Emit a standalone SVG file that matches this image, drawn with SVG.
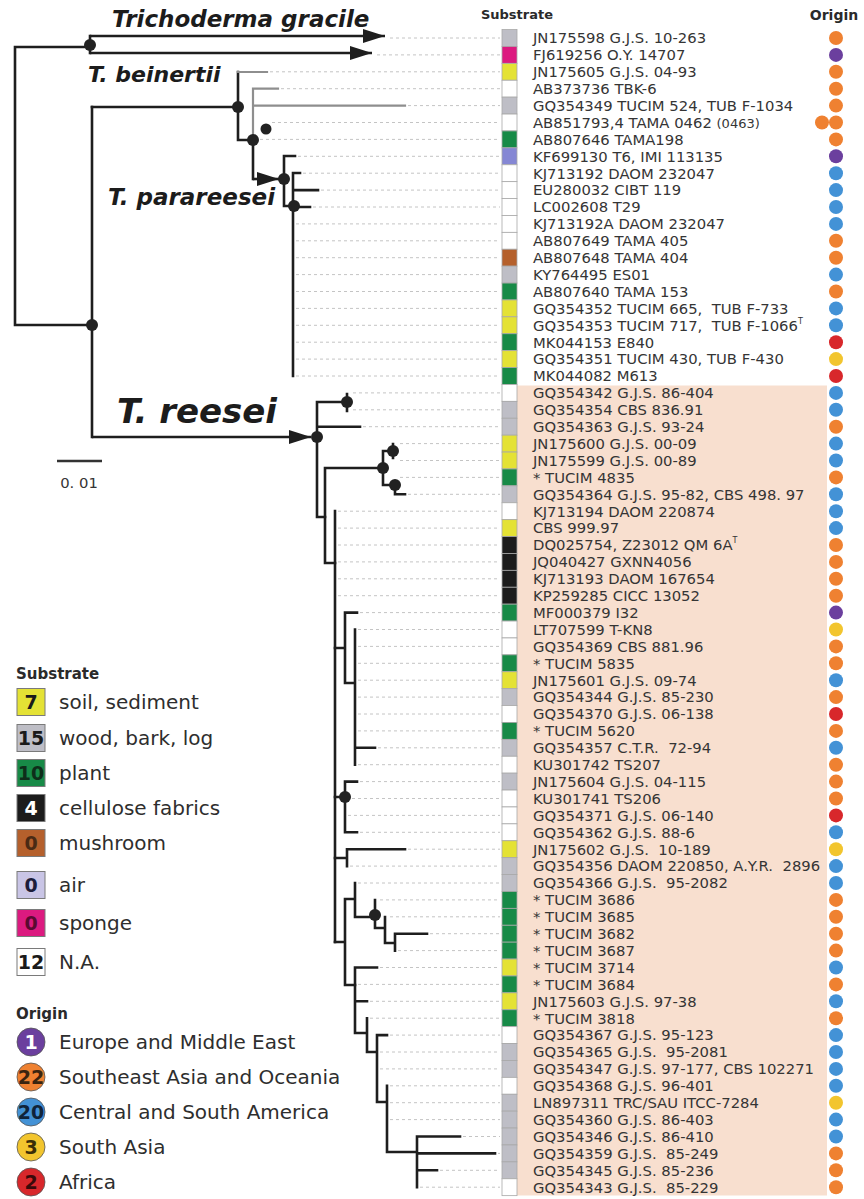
<svg xmlns="http://www.w3.org/2000/svg" width="864" height="1199" viewBox="0 0 864 1199">
<style>
.bg{fill:#ffffff}
.peach{fill:#f8dfcf}
.t{fill:none;stroke:#1e1e1e;stroke-width:2.6;stroke-linecap:square;stroke-linejoin:miter}
.ta{fill:none;stroke:#1e1e1e;stroke-width:2.6;stroke-linecap:butt}
.tg{fill:none;stroke:#8e8e8e;stroke-width:2.2;stroke-linecap:square}
.ld{fill:none;stroke:#c4c4c4;stroke-width:1;stroke-dasharray:3 3}
.dot{fill:#222}
.clade{font-family:"DejaVu Sans",Verdana,sans-serif;font-weight:bold;font-style:italic;fill:#1c1c1c}
.lab{font-family:"DejaVu Sans",Verdana,sans-serif;font-size:14.8px;fill:#353535}
.hdr{font-family:"DejaVu Sans",Verdana,sans-serif;font-weight:bold;fill:#2a2a2a}
.leg{font-family:"DejaVu Sans",Verdana,sans-serif;font-size:20px;fill:#2e2e2e}
.num{font-family:"DejaVu Sans",Verdana,sans-serif;font-size:19px;font-weight:bold;text-anchor:middle}
.sq{stroke:#a8a8a8;stroke-width:0.8}
.lsq{stroke:#7a7a7a;stroke-width:1}
.soil{fill:#e4e235}
.wood{fill:#bebec6}
.plant{fill:#178a47}
.cell{fill:#1c1c1c}
.mush{fill:#b5602c}
.air{fill:#8587d4}
.airl{fill:#c9c5e6}
.spo{fill:#dc1a80}
.na{fill:#ffffff}
.eu{fill:#6b3f9e}
.sea{fill:#ef8131}
.am{fill:#4392d6}
.sa{fill:#f2c52e}
.af{fill:#d8272b}
.lc{stroke:#555;stroke-width:0.8}
</style>
<defs>
<marker id="arr" markerUnits="userSpaceOnUse" markerWidth="22" markerHeight="14" refX="22" refY="7" orient="auto">
<path d="M0,0 L22,7 L0,14 z" fill="#1e1e1e"/>
</marker>
</defs>
<rect class="bg" x="0" y="0" width="864" height="1199"/>
<rect class="peach" x="517" y="385.5" width="310" height="810"/>

<g id="headers">
<text class="hdr" x="553" y="19" font-size="13" text-anchor="end">Substrate</text>
<text class="hdr" x="834" y="20" font-size="14" text-anchor="middle">Origin</text>
</g>

<g id="clade-labels">
<text class="clade" x="112" y="27" font-size="23">Trichoderma gracile</text>
<text class="clade" x="88" y="82" font-size="22">T. beinertii</text>
<text class="clade" x="108" y="205" font-size="23">T. parareesei</text>
<text class="clade" x="117" y="423" font-size="34">T. reesei</text>
</g>

<g id="scale-bar">
<path d="M57,461H102" stroke="#333" stroke-width="2.4"/>
<text class="lab" x="79" y="488" font-size="17" text-anchor="middle">0. 01</text>
</g>

<g id="connectors">
<path class="ld" d="M390,38H500M377,54.9H500M270,71.8H500M281,88.7H500M408,105.6H500M272,122.5H500M260,139.4H500M298,156.3H500M303,173.2H500M321,190.1H500M313,207H500M296,223.9H500M296,240.8H500M296,257.7H500M296,274.6H500M296,291.5H500M296,308.4H500M296,325.3H500M296,342.2H500M296,359.1H500M296,376H500M353,392.9H500M353,409.8H500M363,426.7H500M400,443.6H500M400,460.5H500M400,477.4H500M408,494.3H500M338,511.2H500M338,528.1H500M338,545H500M338,561.9H500M338,578.8H500M338,595.7H500M360,612.6H500M358,629.5H500M358,646.4H500M358,663.3H500M358,680.2H500M358,697.1H500M358,714H500M358,730.9H500M378,747.8H500M358,764.7H500M360,781.6H500M352,798.5H500M348,815.4H500M360,832.3H500M408,849.2H500M350,866.1H500M358,883H500M380,899.9H500M390,916.8H500M430,933.7H500M398,950.6H500M380,967.5H500M358,984.4H500M370,1001.3H500M370,1018.2H500M390,1035.1H500M380,1052H500M380,1068.9H500M390,1085.8H500M390,1102.7H500M390,1119.6H500M463,1136.5H500M498,1153.4H500M440,1170.3H500M420,1187.2H500"/>
<path class="t" d="M90,47H15V325H92"/>
<path class="t" d="M90,36V53"/>
<path class="ta" d="M90,36H385" marker-end="url(#arr)"/>
<path class="ta" d="M90,53H372" marker-end="url(#arr)"/>
<path class="t" d="M92,107V437"/>
<path class="t" d="M92,107H238"/>
<path class="ta" d="M92,437H311" marker-end="url(#arr)"/>
<path class="t" d="M238,107V72"/>
<path class="tg" d="M238,72H267"/>
<path class="t" d="M238,107V140H253"/>
<path class="tg" d="M253,140V88.7H278M253,105.6H405"/>
<path class="t" d="M253,140V179"/>
<path class="ta" d="M253,179H279" marker-end="url(#arr)"/>
<path class="t" d="M284,156V206H293M284,156H295"/>
<path class="t" d="M293,173V376M293,173H300M293,190.1H318M293,207H310"/>
<path class="t" d="M317,402V517H325M317,402H347M347,394V411M317,426.7H360"/>
<path class="t" d="M325,468V563H335M325,468H383M383,451V485M383,451H393M393,444V458M383,485H395V494.3H405"/>
<path class="t" d="M335,511V942"/>
<path class="t" d="M335,648H345M345,612.6V683H355M345,612.6H357M355,629.5V764.7M355,747.8H375"/>
<path class="t" d="M335,797H345M345,781.6V832.3M345,781.6H357M345,832.3H357"/>
<path class="t" d="M335,858H347M347,849.2V866.1M347,849.2H405"/>
<path class="t" d="M335,942H345M345,899V985H355M345,899H355M355,883V917H375M375,900V928H385M385,917V943H395M395,933.7V950.6M395,933.7H427"/>
<path class="t" d="M355,967.5V1033H367M355,967.5H377M355,1001.3H367M367,1018.2V1052H377M377,1035.1V1102H387M377,1035.1H387M387,1085.8V1152H417M417,1136.5V1187.2M417,1136.5H460M417,1153.4H495M417,1170.3H437"/>
<circle class="dot" cx="90" cy="45" r="6"/>
<circle class="dot" cx="92" cy="325" r="6"/>
<circle class="dot" cx="238" cy="107" r="6"/>
<circle class="dot" cx="253" cy="140" r="6"/>
<circle class="dot" cx="266" cy="129" r="5.5"/>
<circle class="dot" cx="284" cy="179" r="6"/>
<circle class="dot" cx="294" cy="206" r="6"/>
<circle class="dot" cx="317" cy="437" r="6"/>
<circle class="dot" cx="347" cy="402" r="6"/>
<circle class="dot" cx="383" cy="468" r="6"/>
<circle class="dot" cx="393" cy="451" r="6"/>
<circle class="dot" cx="395" cy="485" r="6"/>
<circle class="dot" cx="345" cy="797" r="6"/>
<circle class="dot" cx="375" cy="915" r="6"/>
</g>

<g id="taxa">
<g id="r1" transform="translate(0,38)"><rect class="sq wood" x="502" y="-8.45" width="15" height="16.9"/><text class="lab" x="533" y="5.3">JN175598 G.J.S. 10-263</text><circle class="sea" cx="836" cy="0" r="7"/></g>
<g id="r2" transform="translate(0,54.9)"><rect class="sq spo" x="502" y="-8.45" width="15" height="16.9"/><text class="lab" x="533" y="5.3">FJ619256 O.Y. 14707</text><circle class="eu" cx="836" cy="0" r="7"/></g>
<g id="r3" transform="translate(0,71.8)"><rect class="sq soil" x="502" y="-8.45" width="15" height="16.9"/><text class="lab" x="533" y="5.3">JN175605 G.J.S. 04-93</text><circle class="sea" cx="836" cy="0" r="7"/></g>
<g id="r4" transform="translate(0,88.7)"><rect class="sq na" x="502" y="-8.45" width="15" height="16.9"/><text class="lab" x="533" y="5.3">AB373736 TBK-6</text><circle class="sea" cx="836" cy="0" r="7"/></g>
<g id="r5" transform="translate(0,105.6)"><rect class="sq wood" x="502" y="-8.45" width="15" height="16.9"/><text class="lab" x="533" y="5.3">GQ354349 TUCIM 524, TUB F-1034</text><circle class="sea" cx="836" cy="0" r="7"/></g>
<g id="r6" transform="translate(0,122.5)"><rect class="sq na" x="502" y="-8.45" width="15" height="16.9"/><text class="lab" x="533" y="5.3">AB851793,4 TAMA 0462 <tspan font-size="13">(0463)</tspan></text><circle class="sea" cx="822" cy="0" r="7"/><circle class="sea" cx="836" cy="0" r="7"/></g>
<g id="r7" transform="translate(0,139.4)"><rect class="sq plant" x="502" y="-8.45" width="15" height="16.9"/><text class="lab" x="533" y="5.3">AB807646 TAMA198</text><circle class="sea" cx="836" cy="0" r="7"/></g>
<g id="r8" transform="translate(0,156.3)"><rect class="sq air" x="502" y="-8.45" width="15" height="16.9"/><text class="lab" x="533" y="5.3">KF699130 T6, IMI 113135</text><circle class="eu" cx="836" cy="0" r="7"/></g>
<g id="r9" transform="translate(0,173.2)"><rect class="sq na" x="502" y="-8.45" width="15" height="16.9"/><text class="lab" x="533" y="5.3">KJ713192 DAOM 232047</text><circle class="am" cx="836" cy="0" r="7"/></g>
<g id="r10" transform="translate(0,190.1)"><rect class="sq na" x="502" y="-8.45" width="15" height="16.9"/><text class="lab" x="533" y="5.3">EU280032 CIBT 119</text><circle class="am" cx="836" cy="0" r="7"/></g>
<g id="r11" transform="translate(0,207)"><rect class="sq na" x="502" y="-8.45" width="15" height="16.9"/><text class="lab" x="533" y="5.3">LC002608 T29</text><circle class="am" cx="836" cy="0" r="7"/></g>
<g id="r12" transform="translate(0,223.9)"><rect class="sq na" x="502" y="-8.45" width="15" height="16.9"/><text class="lab" x="533" y="5.3">KJ713192A DAOM 232047</text><circle class="am" cx="836" cy="0" r="7"/></g>
<g id="r13" transform="translate(0,240.8)"><rect class="sq na" x="502" y="-8.45" width="15" height="16.9"/><text class="lab" x="533" y="5.3">AB807649 TAMA 405</text><circle class="sea" cx="836" cy="0" r="7"/></g>
<g id="r14" transform="translate(0,257.7)"><rect class="sq mush" x="502" y="-8.45" width="15" height="16.9"/><text class="lab" x="533" y="5.3">AB807648 TAMA 404</text><circle class="sea" cx="836" cy="0" r="7"/></g>
<g id="r15" transform="translate(0,274.6)"><rect class="sq wood" x="502" y="-8.45" width="15" height="16.9"/><text class="lab" x="533" y="5.3">KY764495 ES01</text><circle class="am" cx="836" cy="0" r="7"/></g>
<g id="r16" transform="translate(0,291.5)"><rect class="sq plant" x="502" y="-8.45" width="15" height="16.9"/><text class="lab" x="533" y="5.3">AB807640 TAMA 153</text><circle class="sea" cx="836" cy="0" r="7"/></g>
<g id="r17" transform="translate(0,308.4)"><rect class="sq soil" x="502" y="-8.45" width="15" height="16.9"/><text class="lab" x="533" y="5.3" xml:space="preserve">GQ354352 TUCIM 665,  TUB F-733</text><circle class="am" cx="836" cy="0" r="7"/></g>
<g id="r18" transform="translate(0,325.3)"><rect class="sq soil" x="502" y="-8.45" width="15" height="16.9"/><text class="lab" x="533" y="5.3" xml:space="preserve">GQ354353 TUCIM 717,  TUB F-1066<tspan font-size="8" dy="-7">T</tspan></text><circle class="am" cx="836" cy="0" r="7"/></g>
<g id="r19" transform="translate(0,342.2)"><rect class="sq plant" x="502" y="-8.45" width="15" height="16.9"/><text class="lab" x="533" y="5.3">MK044153 E840</text><circle class="af" cx="836" cy="0" r="7"/></g>
<g id="r20" transform="translate(0,359.1)"><rect class="sq soil" x="502" y="-8.45" width="15" height="16.9"/><text class="lab" x="533" y="5.3">GQ354351 TUCIM 430, TUB F-430</text><circle class="sa" cx="836" cy="0" r="7"/></g>
<g id="r21" transform="translate(0,376)"><rect class="sq plant" x="502" y="-8.45" width="15" height="16.9"/><text class="lab" x="533" y="5.3">MK044082 M613</text><circle class="af" cx="836" cy="0" r="7"/></g>
<g id="r22" transform="translate(0,392.9)"><rect class="sq na" x="502" y="-8.45" width="15" height="16.9"/><text class="lab" x="533" y="5.3">GQ354342 G.J.S. 86-404</text><circle class="am" cx="836" cy="0" r="7"/></g>
<g id="r23" transform="translate(0,409.8)"><rect class="sq wood" x="502" y="-8.45" width="15" height="16.9"/><text class="lab" x="533" y="5.3">GQ354354 CBS 836.91</text><circle class="am" cx="836" cy="0" r="7"/></g>
<g id="r24" transform="translate(0,426.7)"><rect class="sq wood" x="502" y="-8.45" width="15" height="16.9"/><text class="lab" x="533" y="5.3">GQ354363 G.J.S. 93-24</text><circle class="sea" cx="836" cy="0" r="7"/></g>
<g id="r25" transform="translate(0,443.6)"><rect class="sq soil" x="502" y="-8.45" width="15" height="16.9"/><text class="lab" x="533" y="5.3">JN175600 G.J.S. 00-09</text><circle class="am" cx="836" cy="0" r="7"/></g>
<g id="r26" transform="translate(0,460.5)"><rect class="sq soil" x="502" y="-8.45" width="15" height="16.9"/><text class="lab" x="533" y="5.3">JN175599 G.J.S. 00-89</text><circle class="am" cx="836" cy="0" r="7"/></g>
<g id="r27" transform="translate(0,477.4)"><rect class="sq plant" x="502" y="-8.45" width="15" height="16.9"/><text class="lab" x="533" y="5.3">* TUCIM 4835</text><circle class="sea" cx="836" cy="0" r="7"/></g>
<g id="r28" transform="translate(0,494.3)"><rect class="sq wood" x="502" y="-8.45" width="15" height="16.9"/><text class="lab" x="533" y="5.3">GQ354364 G.J.S. 95-82, CBS 498. 97</text><circle class="am" cx="836" cy="0" r="7"/></g>
<g id="r29" transform="translate(0,511.2)"><rect class="sq na" x="502" y="-8.45" width="15" height="16.9"/><text class="lab" x="533" y="5.3">KJ713194 DAOM 220874</text><circle class="am" cx="836" cy="0" r="7"/></g>
<g id="r30" transform="translate(0,528.1)"><rect class="sq soil" x="502" y="-8.45" width="15" height="16.9"/><text class="lab" x="533" y="5.3">CBS 999.97</text><circle class="am" cx="836" cy="0" r="7"/></g>
<g id="r31" transform="translate(0,545)"><rect class="sq cell" x="502" y="-8.45" width="15" height="16.9"/><text class="lab" x="533" y="5.3">DQ025754, Z23012 QM 6A<tspan font-size="8" dy="-7">T</tspan></text><circle class="sea" cx="836" cy="0" r="7"/></g>
<g id="r32" transform="translate(0,561.9)"><rect class="sq cell" x="502" y="-8.45" width="15" height="16.9"/><text class="lab" x="533" y="5.3">JQ040427 GXNN4056</text><circle class="sea" cx="836" cy="0" r="7"/></g>
<g id="r33" transform="translate(0,578.8)"><rect class="sq cell" x="502" y="-8.45" width="15" height="16.9"/><text class="lab" x="533" y="5.3">KJ713193 DAOM 167654</text><circle class="sea" cx="836" cy="0" r="7"/></g>
<g id="r34" transform="translate(0,595.7)"><rect class="sq cell" x="502" y="-8.45" width="15" height="16.9"/><text class="lab" x="533" y="5.3">KP259285 CICC 13052</text><circle class="sea" cx="836" cy="0" r="7"/></g>
<g id="r35" transform="translate(0,612.6)"><rect class="sq plant" x="502" y="-8.45" width="15" height="16.9"/><text class="lab" x="533" y="5.3">MF000379 I32</text><circle class="eu" cx="836" cy="0" r="7"/></g>
<g id="r36" transform="translate(0,629.5)"><rect class="sq na" x="502" y="-8.45" width="15" height="16.9"/><text class="lab" x="533" y="5.3">LT707599 T-KN8</text><circle class="sa" cx="836" cy="0" r="7"/></g>
<g id="r37" transform="translate(0,646.4)"><rect class="sq na" x="502" y="-8.45" width="15" height="16.9"/><text class="lab" x="533" y="5.3">GQ354369 CBS 881.96</text><circle class="sea" cx="836" cy="0" r="7"/></g>
<g id="r38" transform="translate(0,663.3)"><rect class="sq plant" x="502" y="-8.45" width="15" height="16.9"/><text class="lab" x="533" y="5.3">* TUCIM 5835</text><circle class="sea" cx="836" cy="0" r="7"/></g>
<g id="r39" transform="translate(0,680.2)"><rect class="sq soil" x="502" y="-8.45" width="15" height="16.9"/><text class="lab" x="533" y="5.3">JN175601 G.J.S. 09-74</text><circle class="am" cx="836" cy="0" r="7"/></g>
<g id="r40" transform="translate(0,697.1)"><rect class="sq wood" x="502" y="-8.45" width="15" height="16.9"/><text class="lab" x="533" y="5.3">GQ354344 G.J.S. 85-230</text><circle class="sea" cx="836" cy="0" r="7"/></g>
<g id="r41" transform="translate(0,714)"><rect class="sq na" x="502" y="-8.45" width="15" height="16.9"/><text class="lab" x="533" y="5.3">GQ354370 G.J.S. 06-138</text><circle class="af" cx="836" cy="0" r="7"/></g>
<g id="r42" transform="translate(0,730.9)"><rect class="sq plant" x="502" y="-8.45" width="15" height="16.9"/><text class="lab" x="533" y="5.3">* TUCIM 5620</text><circle class="sea" cx="836" cy="0" r="7"/></g>
<g id="r43" transform="translate(0,747.8)"><rect class="sq wood" x="502" y="-8.45" width="15" height="16.9"/><text class="lab" x="533" y="5.3" xml:space="preserve">GQ354357 C.T.R.  72-94</text><circle class="am" cx="836" cy="0" r="7"/></g>
<g id="r44" transform="translate(0,764.7)"><rect class="sq na" x="502" y="-8.45" width="15" height="16.9"/><text class="lab" x="533" y="5.3">KU301742 TS207</text><circle class="sea" cx="836" cy="0" r="7"/></g>
<g id="r45" transform="translate(0,781.6)"><rect class="sq wood" x="502" y="-8.45" width="15" height="16.9"/><text class="lab" x="533" y="5.3">JN175604 G.J.S. 04-115</text><circle class="sea" cx="836" cy="0" r="7"/></g>
<g id="r46" transform="translate(0,798.5)"><rect class="sq na" x="502" y="-8.45" width="15" height="16.9"/><text class="lab" x="533" y="5.3">KU301741 TS206</text><circle class="sea" cx="836" cy="0" r="7"/></g>
<g id="r47" transform="translate(0,815.4)"><rect class="sq na" x="502" y="-8.45" width="15" height="16.9"/><text class="lab" x="533" y="5.3">GQ354371 G.J.S. 06-140</text><circle class="af" cx="836" cy="0" r="7"/></g>
<g id="r48" transform="translate(0,832.3)"><rect class="sq na" x="502" y="-8.45" width="15" height="16.9"/><text class="lab" x="533" y="5.3">GQ354362 G.J.S. 88-6</text><circle class="am" cx="836" cy="0" r="7"/></g>
<g id="r49" transform="translate(0,849.2)"><rect class="sq soil" x="502" y="-8.45" width="15" height="16.9"/><text class="lab" x="533" y="5.3" xml:space="preserve">JN175602 G.J.S.  10-189</text><circle class="sa" cx="836" cy="0" r="7"/></g>
<g id="r50" transform="translate(0,866.1)"><rect class="sq wood" x="502" y="-8.45" width="15" height="16.9"/><text class="lab" x="533" y="5.3" xml:space="preserve">GQ354356 DAOM 220850, A.Y.R.  2896</text><circle class="am" cx="836" cy="0" r="7"/></g>
<g id="r51" transform="translate(0,883)"><rect class="sq wood" x="502" y="-8.45" width="15" height="16.9"/><text class="lab" x="533" y="5.3" xml:space="preserve">GQ354366 G.J.S.  95-2082</text><circle class="am" cx="836" cy="0" r="7"/></g>
<g id="r52" transform="translate(0,899.9)"><rect class="sq plant" x="502" y="-8.45" width="15" height="16.9"/><text class="lab" x="533" y="5.3">* TUCIM 3686</text><circle class="sea" cx="836" cy="0" r="7"/></g>
<g id="r53" transform="translate(0,916.8)"><rect class="sq plant" x="502" y="-8.45" width="15" height="16.9"/><text class="lab" x="533" y="5.3">* TUCIM 3685</text><circle class="sea" cx="836" cy="0" r="7"/></g>
<g id="r54" transform="translate(0,933.7)"><rect class="sq plant" x="502" y="-8.45" width="15" height="16.9"/><text class="lab" x="533" y="5.3">* TUCIM 3682</text><circle class="sea" cx="836" cy="0" r="7"/></g>
<g id="r55" transform="translate(0,950.6)"><rect class="sq plant" x="502" y="-8.45" width="15" height="16.9"/><text class="lab" x="533" y="5.3">* TUCIM 3687</text><circle class="sea" cx="836" cy="0" r="7"/></g>
<g id="r56" transform="translate(0,967.5)"><rect class="sq soil" x="502" y="-8.45" width="15" height="16.9"/><text class="lab" x="533" y="5.3">* TUCIM 3714</text><circle class="am" cx="836" cy="0" r="7"/></g>
<g id="r57" transform="translate(0,984.4)"><rect class="sq plant" x="502" y="-8.45" width="15" height="16.9"/><text class="lab" x="533" y="5.3">* TUCIM 3684</text><circle class="sea" cx="836" cy="0" r="7"/></g>
<g id="r58" transform="translate(0,1001.3)"><rect class="sq soil" x="502" y="-8.45" width="15" height="16.9"/><text class="lab" x="533" y="5.3">JN175603 G.J.S. 97-38</text><circle class="am" cx="836" cy="0" r="7"/></g>
<g id="r59" transform="translate(0,1018.2)"><rect class="sq plant" x="502" y="-8.45" width="15" height="16.9"/><text class="lab" x="533" y="5.3">* TUCIM 3818</text><circle class="sea" cx="836" cy="0" r="7"/></g>
<g id="r60" transform="translate(0,1035.1)"><rect class="sq na" x="502" y="-8.45" width="15" height="16.9"/><text class="lab" x="533" y="5.3">GQ354367 G.J.S. 95-123</text><circle class="am" cx="836" cy="0" r="7"/></g>
<g id="r61" transform="translate(0,1052)"><rect class="sq wood" x="502" y="-8.45" width="15" height="16.9"/><text class="lab" x="533" y="5.3" xml:space="preserve">GQ354365 G.J.S.  95-2081</text><circle class="am" cx="836" cy="0" r="7"/></g>
<g id="r62" transform="translate(0,1068.9)"><rect class="sq wood" x="502" y="-8.45" width="15" height="16.9"/><text class="lab" x="533" y="5.3">GQ354347 G.J.S. 97-177, CBS 102271</text><circle class="am" cx="836" cy="0" r="7"/></g>
<g id="r63" transform="translate(0,1085.8)"><rect class="sq na" x="502" y="-8.45" width="15" height="16.9"/><text class="lab" x="533" y="5.3">GQ354368 G.J.S. 96-401</text><circle class="am" cx="836" cy="0" r="7"/></g>
<g id="r64" transform="translate(0,1102.7)"><rect class="sq wood" x="502" y="-8.45" width="15" height="16.9"/><text class="lab" x="533" y="5.3">LN897311 TRC/SAU ITCC-7284</text><circle class="sa" cx="836" cy="0" r="7"/></g>
<g id="r65" transform="translate(0,1119.6)"><rect class="sq wood" x="502" y="-8.45" width="15" height="16.9"/><text class="lab" x="533" y="5.3">GQ354360 G.J.S. 86-403</text><circle class="am" cx="836" cy="0" r="7"/></g>
<g id="r66" transform="translate(0,1136.5)"><rect class="sq wood" x="502" y="-8.45" width="15" height="16.9"/><text class="lab" x="533" y="5.3">GQ354346 G.J.S. 86-410</text><circle class="am" cx="836" cy="0" r="7"/></g>
<g id="r67" transform="translate(0,1153.4)"><rect class="sq wood" x="502" y="-8.45" width="15" height="16.9"/><text class="lab" x="533" y="5.3" xml:space="preserve">GQ354359 G.J.S.  85-249</text><circle class="sea" cx="836" cy="0" r="7"/></g>
<g id="r68" transform="translate(0,1170.3)"><rect class="sq wood" x="502" y="-8.45" width="15" height="16.9"/><text class="lab" x="533" y="5.3">GQ354345 G.J.S. 85-236</text><circle class="sea" cx="836" cy="0" r="7"/></g>
<g id="r69" transform="translate(0,1187.2)"><rect class="sq na" x="502" y="-8.45" width="15" height="16.9"/><text class="lab" x="533" y="5.3" xml:space="preserve">GQ354343 G.J.S.  85-229</text><circle class="sea" cx="836" cy="0" r="7"/></g>
</g>

<g id="legend-substrate">
<text class="hdr" x="16" y="679" font-size="15">Substrate</text>
<g id="ls-soil" transform="translate(0,702)"><rect class="lsq soil" x="17" y="-13.5" width="28" height="27"/><text class="num" x="31" y="7" fill="#1a1a1a">7</text><text class="leg" x="59" y="7">soil, sediment</text></g>
<g id="ls-wood" transform="translate(0,738)"><rect class="lsq wood" x="17" y="-13.5" width="28" height="27"/><text class="num" x="31" y="7" fill="#1a1a1a">15</text><text class="leg" x="59" y="7">wood, bark, log</text></g>
<g id="ls-plant" transform="translate(0,773)"><rect class="lsq plant" x="17" y="-13.5" width="28" height="27"/><text class="num" x="31" y="7" fill="#0e2e1a">10</text><text class="leg" x="59" y="7">plant</text></g>
<g id="ls-cell" transform="translate(0,808)"><rect class="lsq cell" x="17" y="-13.5" width="28" height="27"/><text class="num" x="31" y="7" fill="#ffffff">4</text><text class="leg" x="59" y="7">cellulose fabrics</text></g>
<g id="ls-mush" transform="translate(0,843)"><rect class="lsq mush" x="17" y="-13.5" width="28" height="27"/><text class="num" x="31" y="7" fill="#4a2a14">0</text><text class="leg" x="59" y="7">mushroom</text></g>
<g id="ls-air" transform="translate(0,885)"><rect class="lsq airl" x="17" y="-13.5" width="28" height="27"/><text class="num" x="31" y="7" fill="#1c1c3a">0</text><text class="leg" x="59" y="7">air</text></g>
<g id="ls-spo" transform="translate(0,923)"><rect class="lsq spo" x="17" y="-13.5" width="28" height="27"/><text class="num" x="31" y="7" fill="#5a0a30">0</text><text class="leg" x="59" y="7">sponge</text></g>
<g id="ls-na" transform="translate(0,962)"><rect class="lsq na" x="17" y="-13.5" width="28" height="27"/><text class="num" x="31" y="7" fill="#1a1a1a">12</text><text class="leg" x="59" y="7">N.A.</text></g>
</g>

<g id="legend-origin">
<text class="hdr" x="16" y="1019" font-size="15">Origin</text>
<g id="lo-eu" transform="translate(0,1042)"><circle class="eu lc" cx="31" cy="0" r="14"/><text class="num" x="31" y="7" fill="#ffffff">1</text><text class="leg" x="59" y="7">Europe and Middle East</text></g>
<g id="lo-sea" transform="translate(0,1077)"><circle class="sea lc" cx="31" cy="0" r="14"/><text class="num" x="31" y="7" fill="#3a2410">22</text><text class="leg" x="59" y="7">Southeast Asia and Oceania</text></g>
<g id="lo-am" transform="translate(0,1112)"><circle class="am lc" cx="31" cy="0" r="14"/><text class="num" x="31" y="7" fill="#10243a">20</text><text class="leg" x="59" y="7">Central and South America</text></g>
<g id="lo-sa" transform="translate(0,1147)"><circle class="sa lc" cx="31" cy="0" r="14"/><text class="num" x="31" y="7" fill="#3a2e08">3</text><text class="leg" x="59" y="7">South Asia</text></g>
<g id="lo-af" transform="translate(0,1182)"><circle class="af lc" cx="31" cy="0" r="14"/><text class="num" x="31" y="7" fill="#3a0a0a">2</text><text class="leg" x="59" y="7">Africa</text></g>
</g>
</svg>
